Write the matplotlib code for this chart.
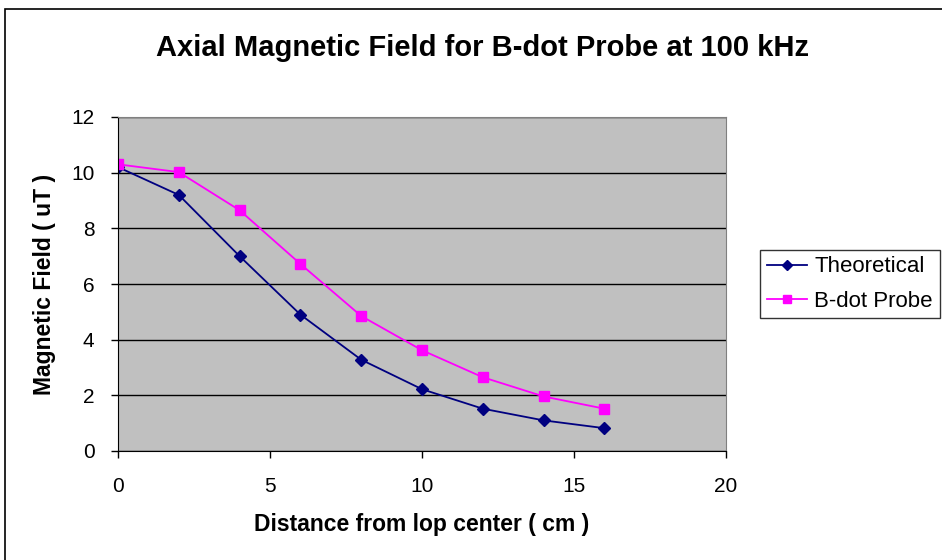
import matplotlib.pyplot as plt
from matplotlib.patches import Rectangle

distance = [0, 2, 4, 6, 8, 10, 12, 14, 16]
theoretical = [10.2, 9.2, 7.0, 4.9, 3.28, 2.22, 1.52, 1.1, 0.82]
bdot_probe = [10.3, 10.02, 8.65, 6.72, 4.85, 3.62, 2.65, 1.96, 1.52]

plt.rcParams['font.family'] = ['Liberation Sans', 'DejaVu Sans']

fig = plt.figure(figsize=(9.42, 5.6), dpi=100)
W, H = 942, 560

# outer chart frame (runs off right/bottom edge like the reference crop)
fig.patches.append(Rectangle((5 / W, -0.1), 1.2, 1 - 9 / H + 0.1,
                             transform=fig.transFigure, fill=False,
                             edgecolor='black', linewidth=1.2))

ax = fig.add_axes([118 / W, 1 - 451 / H, (726 - 118) / W, (451 - 117) / H])
ax.set_facecolor('#C0C0C0')

ax.plot(distance, theoretical, color='#000080', marker='D', markersize=6.5,
        linewidth=1.3, label='Theoretical')
ax.plot(distance, bdot_probe, color='#FF00FF', marker='s', markersize=7,
        linewidth=1.3, label='B-dot Probe')

ax.set_xlim(0, 20)
ax.set_ylim(0, 12)
ax.set_xticks([0, 5, 10, 15, 20])
ax.set_yticks(range(0, 13, 2))
ax.yaxis.grid(True, color='black', linewidth=1)
ax.set_axisbelow(True)

for side in ('top', 'right'):
    ax.spines[side].set_color('#808080')
for side in ('left', 'bottom'):
    ax.spines[side].set_color('black')

ax.tick_params(axis='both', labelsize=15, length=5, width=1, color='black')
ax.tick_params(axis='x', pad=14)
ax.tick_params(axis='y', pad=12)

ax.set_xlabel('Distance from lop center ( cm )', fontsize=16.5, fontweight='bold',
              va='center')
ax.xaxis.set_label_coords(0.5, (451 - 524) / 334)
ax.set_ylabel('Magnetic Field ( uT )', fontsize=16.5, fontweight='bold',
              va='center')
ax.yaxis.set_label_coords((45 - 118) / 608, 0.5)
fig.text(482 / W, 1 - 48 / H, 'Axial Magnetic Field for B-dot Probe at 100 kHz',
         ha='center', va='center', fontsize=21, fontweight='bold')

leg = ax.legend(loc='center left', bbox_to_anchor=(760 / W, 1 - 284 / H),
                bbox_transform=fig.transFigure, fontsize=16, frameon=True,
                fancybox=False, edgecolor='black', borderpad=0.3,
                handlelength=1.8, handletextpad=0.35, labelspacing=0.6,
                borderaxespad=0, markerscale=0.8)
leg.get_frame().set_linewidth(1)

fig.savefig('out.png', dpi=100)
